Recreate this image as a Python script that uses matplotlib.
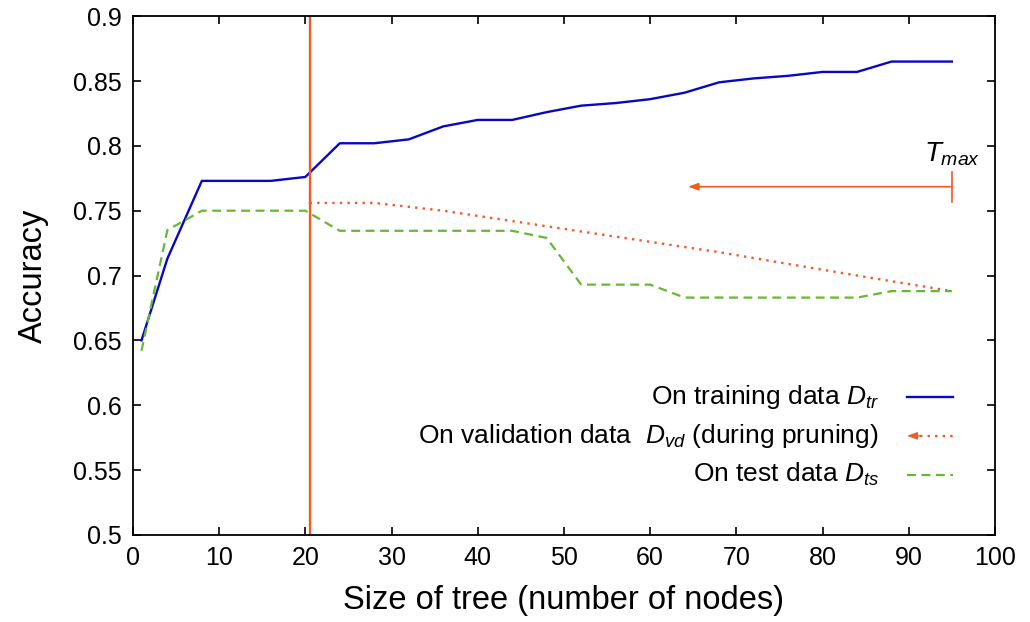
import matplotlib
matplotlib.use("Agg")
import matplotlib.pyplot as plt
from matplotlib.lines import Line2D

plt.rcParams["font.family"] = ["Liberation Sans", "DejaVu Sans"]
plt.rcParams["mathtext.fontset"] = "custom"
plt.rcParams["mathtext.rm"] = "Liberation Sans"
plt.rcParams["mathtext.it"] = "Liberation Sans:italic"

# 訓練資料上的準確率
train_x = [1, 4, 8, 12, 16, 20, 24, 28, 32, 36, 40, 44, 48, 52, 56, 60, 64, 68, 72, 76, 80, 84, 88, 95]
train_y = [0.650, 0.713, 0.773, 0.773, 0.773, 0.776, 0.802, 0.802, 0.805, 0.815, 0.820, 0.820,
           0.826, 0.831, 0.833, 0.836, 0.841, 0.849, 0.852, 0.854, 0.857, 0.857, 0.865, 0.865]
# 驗證資料（剪枝期間）
valid_x = [20.5, 24, 28, 36, 44, 52, 60, 68, 76, 84, 95]
valid_y = [0.756, 0.756, 0.756, 0.750, 0.742, 0.734, 0.726, 0.718, 0.709, 0.700, 0.688]
# 測試資料
test_x = [1, 4, 8, 12, 16, 20, 24, 28, 32, 36, 40, 44, 48, 52, 56, 60, 64, 68, 72, 76, 80, 84, 88, 95]
test_y = [0.642, 0.735, 0.750, 0.750, 0.750, 0.750, 0.7345, 0.7345, 0.7345, 0.7345, 0.7345, 0.7345,
          0.729, 0.693, 0.693, 0.693, 0.683, 0.683, 0.683, 0.683, 0.683, 0.683, 0.688, 0.688]

best_size = 20.5      # 剪枝後選出的樹大小
t_max = 95            # 最大樹
arrow_end = 64.4
arrow_y = 0.7685

BLUE = "#0808C4"
GREEN = "#66B832"
ORANGE = "#F15A24"

fig = plt.figure(figsize=(10.3, 6.22), dpi=100)
ax = fig.add_axes([0.129, 0.140, 0.837, 0.834])

ax.plot(train_x, train_y, color=BLUE, lw=1.7)
ax.plot(valid_x, valid_y, color=ORANGE, lw=1.7, linestyle=(0, (1, 2.2)))
ax.plot(test_x, test_y, color=GREEN, lw=1.6, linestyle=(0, (4, 2.5)))
ax.axvline(best_size, color=ORANGE, lw=1.7)

# T_max arrow
ax.annotate("", xy=(arrow_end, arrow_y), xytext=(t_max, arrow_y),
            arrowprops=dict(arrowstyle="-|>,head_length=0.6,head_width=0.22",
                            color=ORANGE, lw=1.2, shrinkA=0, shrinkB=0))
ax.plot([t_max, t_max], [0.757, 0.780], color=ORANGE, lw=1.2)
ax.text(t_max, 0.783, r"$T_{max}$", ha="center", va="bottom", fontsize=20)

ax.set_xlim(0, 100)
ax.set_ylim(0.5, 0.9)
ax.set_xticks(range(0, 101, 10))
ax.set_yticks([0.5, 0.55, 0.6, 0.65, 0.7, 0.75, 0.8, 0.85, 0.9])
ax.set_yticklabels(["0.5", "0.55", "0.6", "0.65", "0.7", "0.75", "0.8", "0.85", "0.9"])
ax.tick_params(direction="in", length=6, width=1.2, top=True, right=True, labelsize=18, pad=8)
for s in ax.spines.values():
    s.set_linewidth(1.3)
ax.set_xlabel("Size of tree (number of nodes)", fontsize=23.5, labelpad=11)
ax.set_ylabel("Accuracy", fontsize=23.5, labelpad=17)

# 手動圖例（文字靠右）
leg_x0, leg_x1, tx = 0.898, 0.951, 0.865
rows = [0.266, 0.191, 0.116]
labels = [r"On training data $D_{tr}$",
          r"On validation data  $D_{vd}$ (during pruning)",
          r"On test data $D_{ts}$"]
for yy, lab in zip(rows, labels):
    ax.text(tx, yy, lab, transform=ax.transAxes, ha="right", va="center", fontsize=19)
ax.add_line(Line2D([leg_x0, leg_x1], [rows[0]] * 2, transform=ax.transAxes, color=BLUE, lw=1.7))
ax.add_line(Line2D([leg_x0 + 0.015, leg_x1], [rows[1]] * 2, transform=ax.transAxes, color=ORANGE,
                   lw=1.7, linestyle=(0, (1, 2.2))))
ax.annotate("", xy=(leg_x0, rows[1]), xytext=(leg_x0 + 0.016, rows[1]), xycoords="axes fraction",
            arrowprops=dict(arrowstyle="-|>,head_length=0.6,head_width=0.22", color=ORANGE,
                            lw=1.0, shrinkA=0, shrinkB=0))
ax.add_line(Line2D([leg_x0, leg_x1], [rows[2]] * 2, transform=ax.transAxes, color=GREEN,
                   lw=1.6, linestyle=(0, (4, 2.5))))

fig.savefig("out.png", dpi=100, facecolor="white")
